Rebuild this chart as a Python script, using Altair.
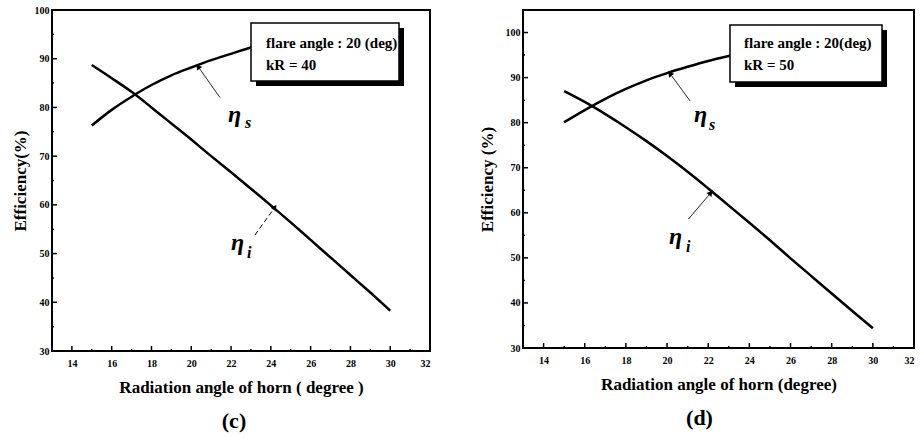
import altair as alt
import pandas as pd

# Radiation angle of horn (degree)
angles = list(range(15, 31))

# kR = 40
eta_s_c = [76.3, 79.5, 82.2, 84.6, 86.6, 88.2, 89.7, 91.0, 92.3, 93.3, 94.2, 94.9, 95.5, 96.0, 96.4, 96.7]
eta_i_c = [88.7, 86.0, 83.2, 80.0, 76.7, 73.4, 70.0, 66.7, 63.3, 59.9, 56.4, 52.8, 49.2, 45.6, 42.0, 38.3]

# kR = 50
eta_s_d = [80.1, 82.8, 85.3, 87.5, 89.4, 91.0, 92.4, 93.7, 94.8, 95.8, 96.7, 97.5, 98.2, 98.8, 99.3, 99.7]
eta_i_d = [87.0, 84.6, 81.9, 79.0, 75.9, 72.6, 69.1, 65.4, 61.6, 57.8, 53.9, 49.9, 46.0, 42.1, 38.2, 34.4]

x_major = [14, 16, 18, 20, 22, 24, 26, 28, 30, 32]
x_minor = [15, 17, 19, 21, 23, 25, 27, 29, 31]

FONT = "Liberation Serif, Times New Roman, DejaVu Serif, serif"


def panel(eta_s, eta_i, ydom, y_labels, y_major, y_minor, W, H,
          box, box_lines, text_x, arrows, eta_pos, ytitle, xtitle,
          caption, caption_dx, ytitle_pad):
    xs = alt.Scale(domain=[13, 32], nice=False, zero=False)
    ys = alt.Scale(domain=ydom, nice=False, zero=False)

    curves = pd.DataFrame({
        "angle": angles * 2,
        "eff": eta_s + eta_i,
        "series": ["s"] * len(angles) + ["i"] * len(angles),
    })

    base_x = alt.X("angle:Q", scale=xs,
                   axis=alt.Axis(values=x_major, ticks=False, domain=False, grid=False,
                                 labelFont=FONT, labelFontWeight="bold", labelFontSize=10,
                                 labelPadding=7, labelColor="black",
                                 title=xtitle, titleFont=FONT, titleFontSize=17,
                                 titleFontWeight="bold", titleColor="black", titlePadding=11))
    base_y = alt.Y("eff:Q", scale=ys,
                   axis=alt.Axis(values=y_labels, ticks=False, domain=False, grid=False,
                                 labelFont=FONT, labelFontWeight="bold", labelFontSize=10,
                                 labelPadding=3, labelColor="black",
                                 title=ytitle, titleFont=FONT, titleFontSize=17,
                                 titleFontWeight="bold", titleColor="black",
                                 titlePadding=ytitle_pad))

    lines = alt.Chart(curves).mark_line(color="black", strokeWidth=2.5,
                                         interpolate="monotone", clip=True).encode(
        x=base_x, y=base_y, detail="series:N")

    # inward tick marks on the bottom and left frame edges
    xt_major = alt.Chart(pd.DataFrame({"angle": x_major[:-1]})).mark_rule(
        color="black", strokeWidth=1.5).encode(
        x=alt.X("angle:Q", scale=xs), y=alt.value(H), y2=alt.value(H - 5))
    xt_minor = alt.Chart(pd.DataFrame({"angle": x_minor})).mark_rule(
        color="black", strokeWidth=1.5).encode(
        x=alt.X("angle:Q", scale=xs), y=alt.value(H), y2=alt.value(H - 2))
    yt_major = alt.Chart(pd.DataFrame({"eff": y_major})).mark_rule(
        color="black", strokeWidth=1.5).encode(
        y=alt.Y("eff:Q", scale=ys), x=alt.value(0), x2=alt.value(5))
    yt_minor = alt.Chart(pd.DataFrame({"eff": y_minor})).mark_rule(
        color="black", strokeWidth=1.5).encode(
        y=alt.Y("eff:Q", scale=ys), x=alt.value(0), x2=alt.value(2))

    # annotation box with drop shadow
    bx0, by0, bx1, by1 = box
    shadow = alt.Chart(pd.DataFrame({"k": [0]})).mark_rect(color="black").encode(
        x=alt.value(bx0 + 5), x2=alt.value(bx1 + 5),
        y=alt.value(by0 + 5), y2=alt.value(by1 + 5))
    panel_box = alt.Chart(pd.DataFrame({"k": [0]})).mark_rect(
        fill="white", stroke="black", strokeWidth=1.5).encode(
        x=alt.value(bx0), x2=alt.value(bx1), y=alt.value(by0), y2=alt.value(by1))
    box_text = [
        alt.Chart(pd.DataFrame({"t": [txt]})).mark_text(
            font=FONT, fontWeight="bold", fontSize=15, align="left",
            baseline="alphabetic", color="black").encode(
            text="t:N", x=alt.value(text_x), y=alt.value(ty))
        for txt, ty in box_lines
    ]

    # pointer arrows from the symbols to the curves
    arr = pd.DataFrame(arrows, columns=["x0", "y0", "x1", "y1", "ang", "dash"])
    shafts = []
    for _, r in arr.iterrows():
        dash = [5, 3] if r["dash"] else [1, 0]
        shafts.append(alt.Chart(pd.DataFrame([r])).mark_rule(
            color="black", strokeWidth=1, strokeDash=dash).encode(
            x=alt.X("x0:Q", scale=xs), y=alt.Y("y0:Q", scale=ys),
            x2="x1:Q", y2="y1:Q"))
    heads = alt.Chart(arr).mark_point(shape="triangle-up", filled=True, color="black",
                                      size=40, opacity=1).encode(
        x=alt.X("x1:Q", scale=xs), y=alt.Y("y1:Q", scale=ys),
        angle=alt.Angle("ang:Q", scale=None))

    # eta symbols with subscripts
    syms = []
    for (ex, ey, sx, sy, sub) in eta_pos:
        syms.append(alt.Chart(pd.DataFrame({"t": ["η"]})).mark_text(
            font=FONT, fontStyle="italic", fontWeight="bold", fontSize=24, align="left",
            baseline="alphabetic", color="black").encode(
            text="t:N", x=alt.value(ex), y=alt.value(ey)))
        syms.append(alt.Chart(pd.DataFrame({"t": [sub]})).mark_text(
            font=FONT, fontStyle="italic", fontWeight="bold", fontSize=16, align="left",
            baseline="alphabetic", color="black").encode(
            text="t:N", x=alt.value(sx), y=alt.value(sy)))

    return alt.layer(
        lines, xt_major, xt_minor, yt_major, yt_minor, *shafts, heads,
        shadow, panel_box, *box_text, *syms
    ).properties(
        width=W, height=H,
        title=alt.TitleParams(caption, orient="bottom", font=FONT, fontSize=22,
                              fontWeight="bold", color="black", dx=caption_dx, offset=16),
    )


left = panel(
    eta_s_c, eta_i_c, [30, 100],
    [30, 40, 50, 60, 70, 80, 90, 100], [40, 50, 60, 70, 80, 90], [35, 45, 55, 65, 75, 85, 95],
    378, 341,
    (199, 13, 347, 71),
    [("flare angle : 20 (deg)", 38), ("kR = 40", 60)], 214,
    [(21.44, 82.05, 20.34, 88.4, 325, False), (23.2, 53.8, 24.2, 59.5, 35, True)],
    [(176, 112, 193, 118, "s"), (179, 240, 195, 248, "i")],
    "Efficiency(%)", "Radiation angle of horn ( degree )", "(c)", -7, 5,
)

right = panel(
    eta_s_d, eta_i_d, [30, 105],
    [30, 40, 50, 60, 70, 80, 90, 100], [40, 50, 60, 70, 80, 90, 100], [35, 45, 55, 65, 75, 85, 95],
    391, 338,
    (207, 15, 359, 72),
    [("flare angle : 20(deg)", 38), ("kR = 50", 60)], 221,
    [(21.12, 84.83, 20.14, 90.9, 323, False), (21.04, 58.6, 22.12, 64.4, 39, False)],
    [(171, 112, 186, 120, "s"), (146, 234, 163, 242, "i")],
    "Efficiency (%)", "Radiation angle of horn (degree)", "(d)", -19, 9,
)

chart = alt.hconcat(left, right, spacing=93, bounds="flush").properties(
    padding={"left": 10, "top": 4, "right": 0, "bottom": 0},
    background="white",
).configure_view(stroke="black", strokeWidth=2)

chart.save("out.html", embed_options={"renderer": "svg", "actions": False})
